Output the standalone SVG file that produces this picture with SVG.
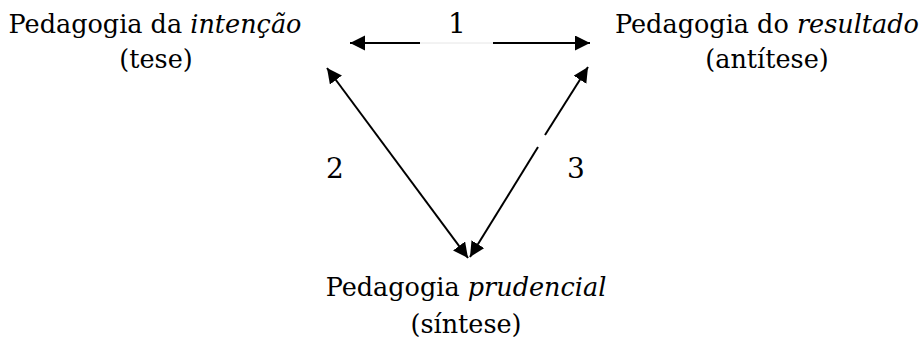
<svg xmlns="http://www.w3.org/2000/svg" width="923" height="341" viewBox="0 0 923 341">
<style>
text{font-family:'DejaVu Serif',serif;font-size:25.5px;fill:#000;text-anchor:middle}
.it{font-style:italic}
.num{font-size:28px}
.ln{stroke:#000;stroke-width:2;fill:none}
</style>
<defs>
<marker id="ah" markerUnits="userSpaceOnUse" markerWidth="16" markerHeight="16" refX="15" refY="7.5" orient="auto-start-reverse" viewBox="0 0 16 16">
<path d="M0,0 L15,7.5 L0,15 z" fill="#000"/>
</marker>
</defs>
<rect width="923" height="341" fill="#fff"/>
<g id="tese">
<text x="155" y="33">Pedagogia da <tspan class="it">intenção</tspan></text>
<text x="156" y="68">(tese)</text>
</g>
<g id="antitese">
<text x="767" y="33">Pedagogia do <tspan class="it">resultado</tspan></text>
<text x="767" y="68">(antítese)</text>
</g>
<g id="sintese">
<text x="466" y="296">Pedagogia <tspan class="it">prudencial</tspan></text>
<text x="466" y="333">(síntese)</text>
</g>
<g id="connectors">
<path class="ln" d="M420,43 L350,43" marker-end="url(#ah)"/>
<path stroke="#e6e6e6" stroke-width="1" d="M420,43 L493,43"/>
<path class="ln" d="M493,43 L590,43" marker-end="url(#ah)"/>
<path class="ln" d="M327,68 L468,258" marker-start="url(#ah)" marker-end="url(#ah)"/>
<path class="ln" d="M538,147 L470,257" marker-end="url(#ah)"/>
<path class="ln" d="M545,135 L588,67" marker-end="url(#ah)"/>
<text class="num" x="457" y="33">1</text>
<text class="num" x="335" y="178">2</text>
<text class="num" x="576" y="178">3</text>
</g>
</svg>
